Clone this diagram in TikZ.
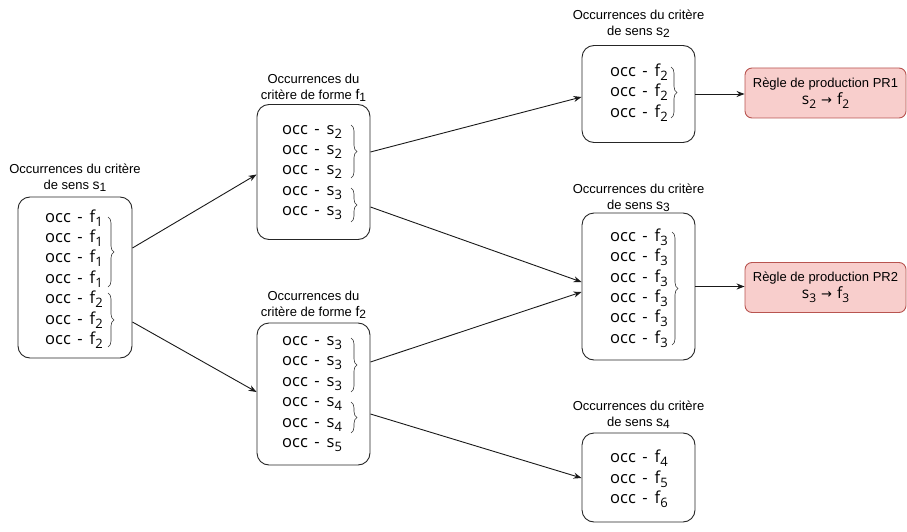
\documentclass[tikz,border=0pt]{standalone}
\usepackage{fontspec}
\setmainfont{Liberation Sans}
\newfontfamily\occfont{Open Sans}
\newfontfamily\arrfont{DejaVu Sans}
\usetikzlibrary{arrows.meta,decorations.pathreplacing,calc}
\definecolor{prfill}{HTML}{F8CECC}
\definecolor{prborder}{HTML}{B85450}
\newcommand{\lsub}[1]{\raisebox{-0.42ex}{\fontsize{12}{12}\selectfont #1}}
\newcommand{\osub}[1]{\raisebox{-0.45ex}{\fontsize{13}{13}\selectfont #1}}
\newcommand{\occline}[2]{occ\hspace{6.5pt}-\hspace{7pt}#1\osub{#2}}
\newcommand{\prarrow}{\hspace{5pt}{\arrfont\fontsize{13}{13}\selectfont →}\hspace{5pt}}
\begin{document}
\begin{tikzpicture}[x=1pt,y=-1pt,
  box/.style={draw=black!85, line width=0.9pt, rounded corners=12pt, inner sep=0pt},
  pr/.style={draw=prborder, fill=prfill, line width=0.9pt, rounded corners=7pt, inner sep=0pt, minimum width=161pt, minimum height=50pt, align=center, font=\fontsize{13}{17}\selectfont},
  occ/.style={font=\occfont\fontsize{16.5}{20.4}\selectfont, align=left, inner sep=0pt, anchor=west},
  lbl/.style={font=\fontsize{13}{15.5}\selectfont, align=center, inner sep=0pt},
  brc/.style={decorate, decoration={brace, amplitude=6pt}, draw=black!80, line width=0.6pt},
  arr/.style={-{Stealth[length=8pt,width=6pt]}, draw=black!90, line width=0.9pt}]
\useasboundingbox (0,0) rectangle (907,532);

% boxes
\node[box, minimum width=114pt, minimum height=161pt] (s1) at (75,277.5) {};
\node[box, minimum width=113pt, minimum height=135pt] (f1) at (313.5,172) {};
\node[box, minimum width=113pt, minimum height=142pt] (f2) at (313.5,394) {};
\node[box, minimum width=113pt, minimum height=97pt] (s2) at (638.5,94) {};
\node[box, minimum width=113pt, minimum height=147pt] (s3) at (638.5,286.5) {};
\node[box, minimum width=113pt, minimum height=89pt] (s4) at (638.5,477.5) {};
\node[pr] (pr1) at (825.5,93) {Règle de production PR1\\{\occfont\fontsize{15.5}{15.5}\selectfont s\lsub{2}\prarrow f\lsub{2}}};
\node[pr] (pr2) at (825.5,287.5) {Règle de production PR2\\{\occfont\fontsize{15.5}{15.5}\selectfont s\lsub{3}\prarrow f\lsub{3}}};

% labels
\node[lbl] (s1l) at (75,178) {Occurrences du critère\\de sens {\fontsize{14}{14}\selectfont s}\lsub{1}};
\node[lbl] (f1l) at (313.5,88) {Occurrences du\\critère de forme {\fontsize{14}{14}\selectfont f}\lsub{1}};
\node[lbl] (f2l) at (313.5,305) {Occurrences du\\critère de forme {\fontsize{14}{14}\selectfont f}\lsub{2}};
\node[lbl] (s2l) at (638.5,24) {Occurrences du critère\\de sens {\fontsize{14}{14}\selectfont s}\lsub{2}};
\node[lbl] (s3l) at (638.5,198) {Occurrences du critère\\de sens {\fontsize{14}{14}\selectfont s}\lsub{3}};
\node[lbl] (s4l) at (638.5,415) {Occurrences du critère\\de sens {\fontsize{14}{14}\selectfont s}\lsub{4}};

% contents
\node[occ] (s1t) at (45,279) {\occline{f}{1}\\\occline{f}{1}\\\occline{f}{1}\\\occline{f}{1}\\\occline{f}{2}\\\occline{f}{2}\\\occline{f}{2}};
\node[occ] (f1t) at (282,172.5) {\occline{s}{2}\\\occline{s}{2}\\\occline{s}{2}\\\occline{s}{3}\\\occline{s}{3}};
\node[occ] (f2t) at (282,394) {\occline{s}{3}\\\occline{s}{3}\\\occline{s}{3}\\\occline{s}{4}\\\occline{s}{4}\\\occline{s}{5}};
\node[occ] (s2t) at (610,92.5) {\occline{f}{2}\\\occline{f}{2}\\\occline{f}{2}};
\node[occ] (s3t) at (610,288) {\occline{f}{3}\\\occline{f}{3}\\\occline{f}{3}\\\occline{f}{3}\\\occline{f}{3}\\\occline{f}{3}};
\node[occ] (s4t) at (610,479) {\occline{f}{4}\\\occline{f}{5}\\\occline{f}{6}};

% braces
\draw[brc] (108,217) -- (108,287);
\draw[brc] (108,293) -- (108,347);
\draw[brc] (351,125) -- (351,178);
\draw[brc] (351,188) -- (351,222);
\draw[brc] (351,338) -- (351,392);
\draw[brc] (351,402) -- (351,433);
\draw[brc] (671,67) -- (671,118);
\draw[brc] (672,232) -- (672,345);

% arrows
\draw[arr] ($(s1.east)+(0,-29.5)$) -- ($(f1.west)+(0,2.5)$);
\draw[arr] ($(s1.east)+(0,44.5)$) -- ($(f2.west)+(0,-2)$);
\draw[arr] ($(f1.east)+(0,-20)$) -- ($(s2.west)+(0,3)$);
\draw[arr] ($(f1.east)+(0,35)$) -- ($(s3.west)+(0,-4.5)$);
\draw[arr] ($(f2.east)+(0,-32)$) -- ($(s3.west)+(0,5.5)$);
\draw[arr] ($(f2.east)+(0,20)$) -- ($(s4.west)+(0,0.5)$);
\draw[arr] (s2.east) -- (s2.east -| pr1.west);
\draw[arr] (s3.east) -- (s3.east -| pr2.west);
\end{tikzpicture}
\end{document}
